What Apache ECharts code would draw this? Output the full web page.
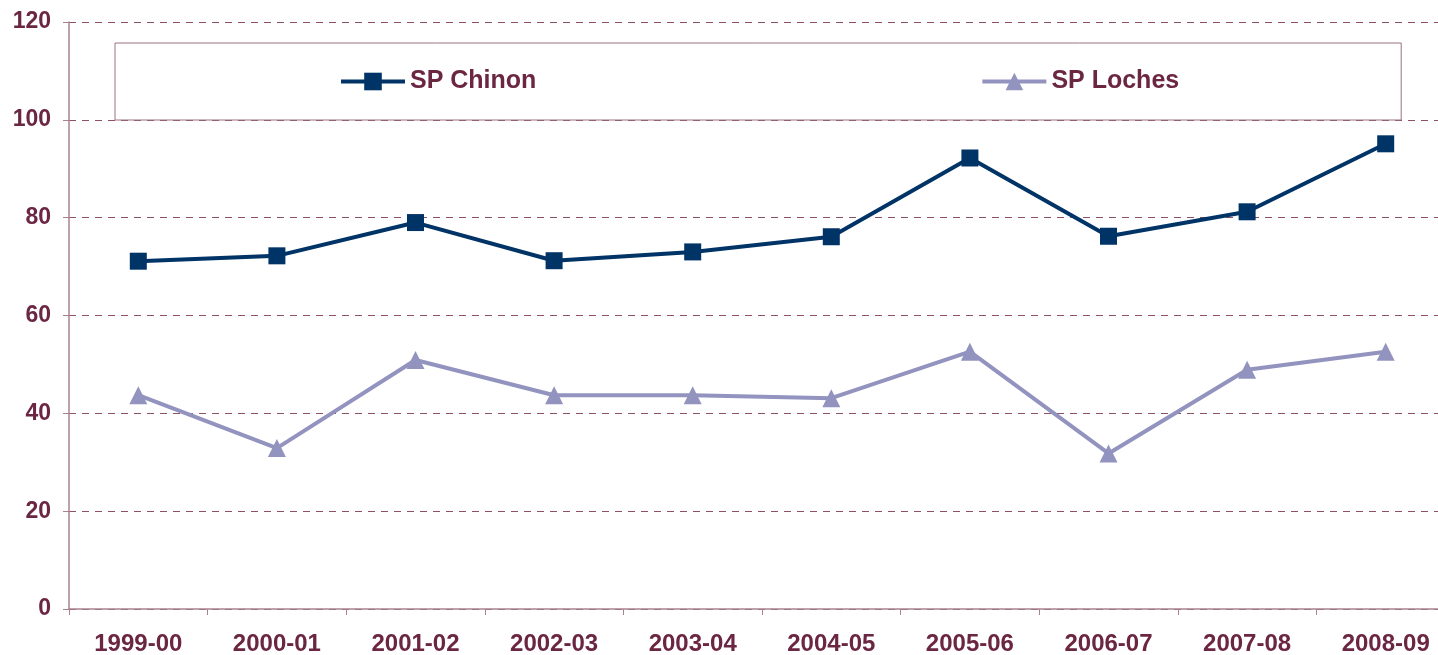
<!DOCTYPE html>
<html>
<head>
<meta charset="utf-8">
<script src="https://cdn.jsdelivr.net/npm/echarts@6/dist/echarts.min.js"></script>
<style>
  html, body { margin: 0; padding: 0; background: #fff; overflow: hidden; }
  #chart { width: 1438px; height: 655px; }
</style>
</head>
<body>
<div id="chart"></div>
<script>
//--------------------- Data ---------------------------//
const seasons = ['1999-00', '2000-01', '2001-02', '2002-03', '2003-04', '2004-05', '2005-06', '2006-07', '2007-08', '2008-09'];
const chinon = [71.1, 72.2, 79.0, 71.2, 73.0, 76.1, 92.2, 76.2, 81.2, 95.1];
const loches = [43.7, 32.9, 50.9, 43.7, 43.7, 43.1, 52.6, 31.8, 48.9, 52.6];

//--------------------- Styles ---------------------------//
const textColor = '#6b2642';
const axisColor = '#a88290';
const font = '"Liberation Sans", Arial, sans-serif';

// Init eChart plot
const chartDom = document.getElementById('chart');
const myChart = echarts.init(chartDom, null, { renderer: 'canvas' });

// The plot area runs past the right edge, as in the original picture
const option = {
  animation: false,
  textStyle: { fontFamily: font },
  grid: { left: 69, width: 1386, top: 22, bottom: 46, containLabel: false, outerBoundsMode: 'none' },
  legend: {
    left: 115,
    top: 43,
    padding: [26, 222, 26, 224],
    itemGap: 444,
    itemWidth: 64,
    itemHeight: 22,
    borderColor: '#9c7082',
    borderWidth: 1,
    borderRadius: 0,
    lineStyle: { width: 4 },
    textStyle: { color: textColor, fontSize: 25, fontWeight: 'bold', fontFamily: font, lineHeight: 25 },
    data: ['SP Chinon', 'SP Loches']
  },
  xAxis: {
    type: 'category',
    data: seasons,
    boundaryGap: true,
    axisLine: { lineStyle: { color: axisColor, width: 1.5 } },
    axisTick: { show: true, length: 6, lineStyle: { color: axisColor } },
    axisLabel: { color: textColor, fontSize: 24, fontWeight: 'bold', margin: 23, fontFamily: font }
  },
  yAxis: {
    type: 'value',
    min: 0,
    max: 120,
    interval: 20,
    axisLine: { show: true, lineStyle: { color: axisColor, width: 1.5 } },
    axisTick: { show: true, length: 6, lineStyle: { color: axisColor } },
    axisLabel: { color: textColor, fontSize: 23, fontWeight: 'bold', margin: 18, fontFamily: font },
    splitLine: { show: true, lineStyle: { color: '#8e5066', type: [7, 6], width: 1 } }
  },
  series: [
    {
      name: 'SP Chinon',
      type: 'line',
      data: chinon,
      symbol: 'rect',
      symbolSize: 17,
      lineStyle: { color: '#003366', width: 4 },
      itemStyle: { color: '#003366' },
      z: 3
    },
    {
      name: 'SP Loches',
      type: 'line',
      data: loches,
      symbol: 'triangle',
      symbolSize: 18,
      lineStyle: { color: '#9393bf', width: 4 },
      itemStyle: { color: '#9393bf' },
      z: 2
    }
  ]
};

option && myChart.setOption(option);
</script>
</body>
</html>
